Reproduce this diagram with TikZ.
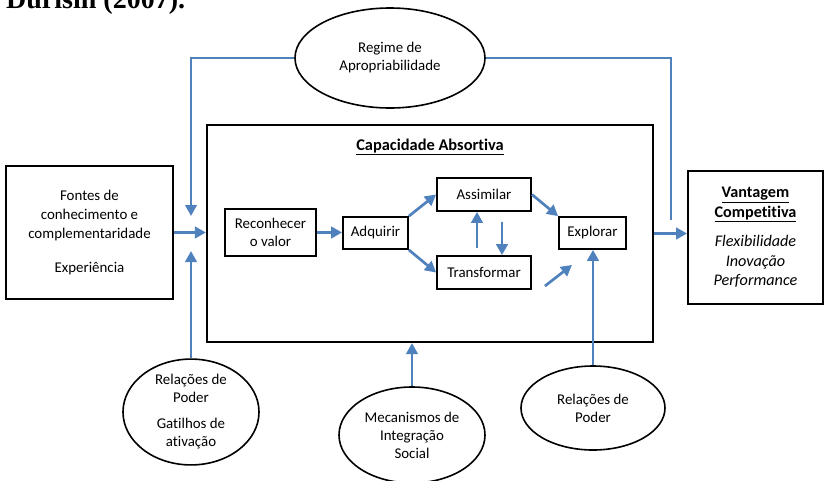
\documentclass[tikz,border=0pt]{standalone}
\usepackage{fontspec}
\setmainfont[Ligatures=NoCommon]{Carlito}
\newfontfamily\captionserif{Liberation Serif}
\usetikzlibrary{shapes.geometric,arrows.meta}
\definecolor{flowblue}{RGB}{79,129,189}
\begin{document}
\begin{tikzpicture}[x=1pt,y=-1pt,
  lbl/.style={font=\fontsize{14.9}{18}\selectfont, align=center},
  box/.style={draw=black, line width=1.8pt, inner sep=0pt, lbl},
  oval/.style={ellipse, draw=black, line width=1.6pt, inner sep=0pt, lbl},
  arr/.style={draw=flowblue, line width=2.7pt, -{Triangle[length=11pt,width=11.5pt]}},
  link/.style={draw=flowblue, line width=2.7pt}]
\clip (0,0) rectangle (825,480);

% caption line running off the top edge
\node[anchor=base west, inner sep=0pt, font=\captionserif\bfseries\fontsize{28}{30}\selectfont] (caption) at (6,8) {Durisin (2007).};

% outer blocks
\node[box, minimum width=167pt, minimum height=133pt, font=\fontsize{14.9}{19}\selectfont] (fontes) at (89.5,232.5)
  {Fontes de\\conhecimento e\\complementaridade\\[15pt]Experiência};
\node[box, line width=2.2pt, minimum width=446pt, minimum height=217pt] (cap) at (430,233.5) {};
\node[lbl, font=\fontsize{16.4}{18}\selectfont\bfseries] (title) at (430,147) {\underline{Capacidade Absortiva}};
\node[box, minimum width=135pt, minimum height=133pt, font=\fontsize{16.2}{19.5}\selectfont] (vant) at (755.5,237.5)
  {\textbf{\underline{Vantagem}}\\\textbf{\underline{Competitiva}}\\[10pt]\textit{Flexibilidade}\\\textit{Inovação}\\\textit{Performance}};

% process steps
\node[box, minimum width=91pt, minimum height=47pt] (recon) at (270.5,232.5) {Reconhecer\\o valor};
\node[box, minimum width=65pt, minimum height=32pt] (adq) at (375.5,233) {Adquirir};
\node[box, minimum width=94pt, minimum height=33pt] (assim) at (484,194.5) {Assimilar};
\node[box, minimum width=94pt, minimum height=33pt] (transf) at (484,272.5) {Transformar};
\node[box, minimum width=67pt, minimum height=32pt] (expl) at (592.5,233) {Explorar};

% influencing factors
\node[oval, minimum width=190pt, minimum height=100pt] (regime) at (390,58) {Regime de\\Apropriabilidade};
\node[oval, minimum width=136pt, minimum height=96pt] (rpl) at (191,412) {Relações de\\Poder\\[8pt]Gatilhos de\\ativação};
\node[oval, minimum width=146pt, minimum height=96pt] (mec) at (412,435) {Mecanismos de\\Integração\\Social};
\node[oval, minimum width=144pt, minimum height=84pt] (rpr) at (593,408) {Relações de\\Poder};

% free ends of connectors
\coordinate (topin) at (191,216);
\coordinate (topout) at (671,220);
\coordinate (lowin) at (191,251);
\coordinate (ta) at (545,286);
\coordinate (tb) at (572,265);

% outer connectors
\draw[arr] (fontes.east) -- (fontes.east -| cap.west);
\draw[arr] (regime.west) -| (topin);
\draw[link] (regime.east) -| (topout);
\draw[arr] (rpl.north) -- (lowin);
\draw[arr] (cap.east) -- (cap.east -| vant.west);
\draw[arr] (mec.north) -- (mec.north |- cap.south);
\draw[arr] (rpr.north) -- (rpr.north |- expl.south);

% inner connectors
\draw[arr] (recon.east) -- (recon.east -| adq.west);
\draw[arr] (adq.north east) -- (assim.west);
\draw[arr] (adq.south east) -- (transf.west);
\draw[arr] (assim.east) -- (expl.north west);
\draw[arr] ([shift={(-7pt,7pt)}]transf.north) -- ([xshift=-7pt]assim.south);
\draw[arr] ([shift={(18pt,-10pt)}]assim.south) -- ([xshift=18pt]transf.north);
\draw[arr] (ta) -- (tb);
\end{tikzpicture}
\end{document}
